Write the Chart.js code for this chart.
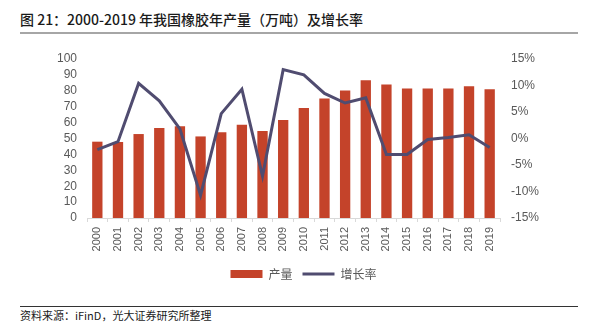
<!DOCTYPE html>
<html>
<head>
<meta charset="utf-8">
<script src="https://cdn.jsdelivr.net/npm/chart.js@4/dist/chart.umd.min.js"></script>
<style>
  html, body { margin: 0; padding: 0; background: #fff; }
  body { width: 589px; height: 332px; position: relative; overflow: hidden; font-family: "Noto Sans CJK SC", "Liberation Sans", sans-serif; }
  #title { position: absolute; left: 20px; top: 9px; font-size: 14px; font-weight: 500; color: #1a1a1a; white-space: nowrap; }
  #titleLine { position: absolute; left: 20px; top: 32px; width: 558px; height: 2px; background: #a6a6a6; }
  #footLine { position: absolute; left: 20px; top: 306px; width: 558px; height: 1px; background: #333; }
  #foot { position: absolute; left: 20px; top: 307px; font-size: 11px; color: #1a1a1a; white-space: nowrap; }
  #wrap { position: absolute; left: 0; top: 40px; width: 589px; height: 250px; }
</style>
</head>
<body>
<div id="title">图 21：2000-2019 年我国橡胶年产量（万吨）及增长率</div>
<div id="titleLine"></div>
<div id="wrap"><canvas id="c"></canvas></div>
<div id="footLine"></div>
<div id="foot">资料来源：iFinD，光大证券研究所整理</div>
<script>
const years = ['2000','2001','2002','2003','2004','2005','2006','2007','2008','2009','2010','2011','2012','2013','2014','2015','2016','2017','2018','2019'];
const production = [48.0, 47.8, 52.8, 56.6, 57.7, 51.3, 53.9, 58.7, 54.7, 61.7, 69.2, 75.1, 80.2, 86.6, 84.0, 81.5, 81.5, 81.5, 82.8, 81.0];
const growth = [-2.1, -0.6, 10.4, 7.1, 1.8, -10.7, 4.7, 9.3, -7.1, 13.0, 12.0, 8.5, 6.7, 7.7, -3.0, -3.0, -0.2, 0.2, 0.7, -1.7];
const leftTicks = [0,10,20,30,40,50,60,70,80,90,100];
const rightTicks = [-15,-10,-5,0,5,10,15];
const seriesNames = ['产量', '增长率'];

const barColor = '#C4432A';
const lineColor = '#504C70';
const tickColor = '#595959';

const shiftLegend = {
  id: 'shiftLegend',
  afterLayout(chart) {
    const lg = chart.legend;
    if (lg) { lg.left += 9; lg.right += 9; }
  }
};

new Chart(document.getElementById('c'), {
  data: {
    labels: years,
    datasets: [
      { type: 'bar', label: seriesNames[0], data: production, backgroundColor: barColor, yAxisID: 'y', order: 1,
        barPercentage: 0.5, categoryPercentage: 1.0 },
      { type: 'line', label: seriesNames[1], data: growth, borderColor: lineColor, backgroundColor: lineColor, borderWidth: 3,
        pointRadius: 0, tension: 0, yAxisID: 'y2', order: 0 }
    ]
  },
  options: {
    responsive: true,
    maintainAspectRatio: false,
    animation: false,
    layout: { padding: { top: 19, left: 0, right: 0, bottom: 0 } },
    plugins: {
      tooltip: { enabled: false },
      legend: {
        position: 'bottom',
        labels: {
          usePointStyle: true,
          pointStyleWidth: 32,
          boxHeight: 8,
          padding: 10,
          color: tickColor,
          font: { family: '"Noto Sans CJK SC", sans-serif', size: 12 },
          sort: (a, b) => a.datasetIndex - b.datasetIndex,
          generateLabels: (chart) => [
            { text: seriesNames[0], fillStyle: barColor, strokeStyle: barColor, lineWidth: 0, pointStyle: 'rect', datasetIndex: 0, fontColor: tickColor },
            { text: seriesNames[1], fillStyle: lineColor, strokeStyle: lineColor, lineWidth: 3, pointStyle: 'line', datasetIndex: 1, fontColor: tickColor }
          ]
        }
      }
    },
    scales: {
      x: {
        offset: true,
        grid: { display: true, drawOnChartArea: false, drawTicks: true, tickLength: 4, color: '#d9d9d9', offset: true },
        border: { display: true, color: '#d9d9d9', width: 1 },
        ticks: { color: tickColor, font: { family: '"Liberation Sans", Arial, sans-serif', size: 11 }, minRotation: 90, maxRotation: 90, padding: 5, autoSkip: false },
        afterFit: (s) => { s.height = 40; }
      },
      y: {
        position: 'left',
        min: 0, max: 100,
        afterBuildTicks: (s) => { s.ticks = leftTicks.map(v => ({ value: v })); },
        grid: { display: false, drawTicks: false },
        border: { display: false },
        ticks: { color: tickColor, font: { family: '"Liberation Sans", Arial, sans-serif', size: 12 }, padding: 10, autoSkip: false },
        afterFit: (s) => { s.width = 87; }
      },
      y2: {
        position: 'right',
        min: -15, max: 15,
        afterBuildTicks: (s) => { s.ticks = rightTicks.map(v => ({ value: v })); },
        grid: { display: false, drawTicks: false },
        border: { display: false },
        ticks: { color: tickColor, font: { family: '"Liberation Sans", Arial, sans-serif', size: 12 }, padding: 11, autoSkip: false, callback: (v) => v + '%' },
        afterFit: (s) => { s.width = 89; }
      }
    }
  },
  plugins: [shiftLegend]
});
</script>
</body>
</html>
